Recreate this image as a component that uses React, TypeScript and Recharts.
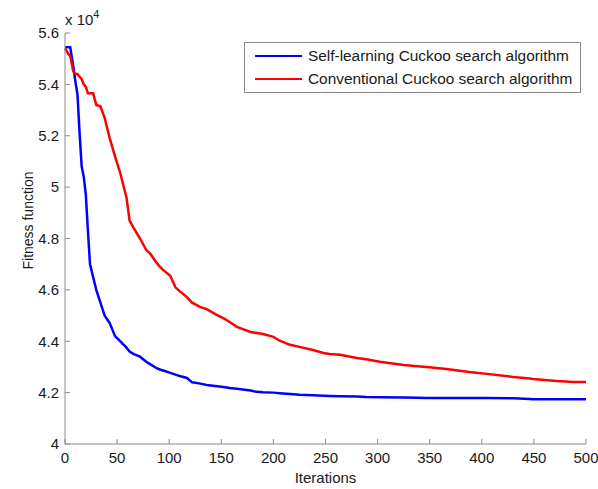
import React from 'react';
import { LineChart, Line, XAxis, YAxis, Legend } from 'recharts';

const iterations = [0, 3, 5, 8, 10, 12, 14, 16, 18, 20, 22, 24, 27, 30, 34, 38, 43, 48, 53, 59, 62, 66, 72, 78, 82, 88, 91, 95, 101, 106, 110, 117, 122, 130, 136, 146, 152, 158, 165, 178, 184, 190, 200, 206, 216, 225, 238, 248, 254, 264, 280, 289, 302, 325, 338, 347, 366, 388, 405, 430, 446, 449, 472, 488, 500];

const selfLearning = [5.545, 5.545, 5.545, 5.47, 5.41, 5.36, 5.21, 5.08, 5.04, 4.97, 4.83, 4.70, 4.65, 4.60, 4.55, 4.50, 4.47, 4.42, 4.40, 4.375, 4.36, 4.35, 4.34, 4.32, 4.31, 4.295, 4.29, 4.285, 4.277, 4.27, 4.265, 4.257, 4.24, 4.235, 4.23, 4.225, 4.222, 4.218, 4.215, 4.208, 4.203, 4.201, 4.2, 4.198, 4.195, 4.192, 4.19, 4.188, 4.187, 4.186, 4.185, 4.183, 4.182, 4.181, 4.18, 4.179, 4.179, 4.179, 4.179, 4.178, 4.175, 4.174, 4.174, 4.174, 4.174];

const conventional = [5.54, 5.52, 5.51, 5.45, 5.44, 5.44, 5.43, 5.42, 5.40, 5.39, 5.365, 5.365, 5.365, 5.32, 5.315, 5.27, 5.19, 5.12, 5.055, 4.96, 4.87, 4.84, 4.80, 4.755, 4.74, 4.705, 4.69, 4.675, 4.655, 4.61, 4.595, 4.572, 4.55, 4.533, 4.525, 4.502, 4.49, 4.475, 4.456, 4.436, 4.432, 4.428, 4.417, 4.402, 4.386, 4.378, 4.366, 4.354, 4.35, 4.347, 4.335, 4.33, 4.32, 4.308, 4.303, 4.30, 4.292, 4.28, 4.273, 4.261, 4.255, 4.253, 4.245, 4.241, 4.241];

const xTicks = [0, 50, 100, 150, 200, 250, 300, 350, 400, 450, 500];
const yTicks = [4, 4.2, 4.4, 4.6, 4.8, 5, 5.2, 5.4, 5.6];

const seriesNames = ['Self-learning Cuckoo search algorithm', 'Conventional Cuckoo search algorithm'];
const seriesColors = ['#0000ff', '#ff0000'];

const data = iterations.map((it, i) => ({ it, a: selfLearning[i], b: conventional[i] }));

const FONT = '"Liberation Sans", Arial, Helvetica, sans-serif';
const AXIS = '#8c8c8c';
const TEXT = '#1a1a1a';

const fmt = (v: number) => String(Number(v.toFixed(1)));

const YLabel = (props: any) => {
  const vb = props.viewBox || { x: 25, y: 33, width: 40, height: 411 };
  const x = vb.x + 8;
  const y = vb.y + vb.height / 2 - 18;
  return (
    <text x={x} y={y} transform={`rotate(-90 ${x} ${y})`} textAnchor="middle" fontSize={14} fontFamily={FONT} fill={TEXT}>
      Fitness function
    </text>
  );
};

const LegendBox = () => (
  <div style={{ width: 337, height: 51, border: `1px solid ${AXIS}`, background: '#fff', boxSizing: 'border-box', fontFamily: FONT, fontSize: 15.4, color: TEXT, position: 'relative' }}>
    {seriesNames.map((name, i) => (
      <div key={name} style={{ position: 'absolute', left: 10, top: 3 + i * 23, height: 20, display: 'flex', alignItems: 'center', whiteSpace: 'nowrap' }}>
        <div style={{ width: 47, height: 2.5, background: seriesColors[i], marginRight: 6 }} />
        <span>{name}</span>
      </div>
    ))}
  </div>
);

export default function App() {
  return (
    <div style={{ position: 'absolute', left: 0, top: 0, width: 598, height: 489, background: '#fff' }}>
      <LineChart width={598} height={489} data={data} margin={{ top: 33, right: 12, bottom: 0, left: 25 }}>
        <XAxis
          xAxisId="bottom"
          dataKey="it"
          type="number"
          domain={[0, 500]}
          ticks={xTicks}
          orientation="bottom"
          height={45}
          tickSize={-5}
          tickMargin={13}
          stroke={AXIS}
          tickLine={{ stroke: AXIS }}
          axisLine={{ stroke: AXIS }}
          tick={{ fill: TEXT, fontSize: 15, fontFamily: FONT }}
          interval={0}
          label={{ value: 'Iterations', position: 'insideBottom', offset: 6, fill: TEXT, fontSize: 15, fontFamily: FONT }}
        />
        <XAxis
          xAxisId="top"
          type="number"
          domain={[0, 500]}
          ticks={xTicks}
          orientation="top"
          height={0}
          tickSize={-5}
          tick={false}
          stroke={AXIS}
          tickLine={{ stroke: AXIS }}
          axisLine={{ stroke: AXIS }}
          interval={0}
        />
        <YAxis
          yAxisId="left"
          type="number"
          domain={[4, 5.6]}
          ticks={yTicks}
          orientation="left"
          width={40}
          tickSize={-5}
          tickMargin={11}
          stroke={AXIS}
          tickLine={{ stroke: AXIS }}
          axisLine={{ stroke: AXIS }}
          tick={{ fill: TEXT, fontSize: 15, fontFamily: FONT }}
          tickFormatter={fmt}
          interval={0}
          label={<YLabel />}
        />
        <YAxis
          yAxisId="right"
          type="number"
          domain={[4, 5.6]}
          ticks={yTicks}
          orientation="right"
          width={0}
          tickSize={-5}
          tick={false}
          stroke={AXIS}
          tickLine={{ stroke: AXIS }}
          axisLine={{ stroke: AXIS }}
          interval={0}
        />
        <Line xAxisId="bottom" yAxisId="left" type="linear" dataKey="a" name={seriesNames[0]} stroke={seriesColors[0]} strokeWidth={2.5} dot={false} isAnimationActive={false} />
        <Line xAxisId="bottom" yAxisId="left" type="linear" dataKey="b" name={seriesNames[1]} stroke={seriesColors[1]} strokeWidth={2.5} dot={false} isAnimationActive={false} />
        <Legend
          layout="vertical"
          align="center"
          verticalAlign="middle"
          content={<LegendBox />}
          wrapperStyle={{ position: 'absolute', left: 244, top: 42, width: 337, height: 51 }}
        />
        <text x={65} y={25} fontSize={15} fontFamily={FONT} fill={TEXT}>
          x 10<tspan dy={-7} fontSize={11}>4</tspan>
        </text>
      </LineChart>
    </div>
  );
}
